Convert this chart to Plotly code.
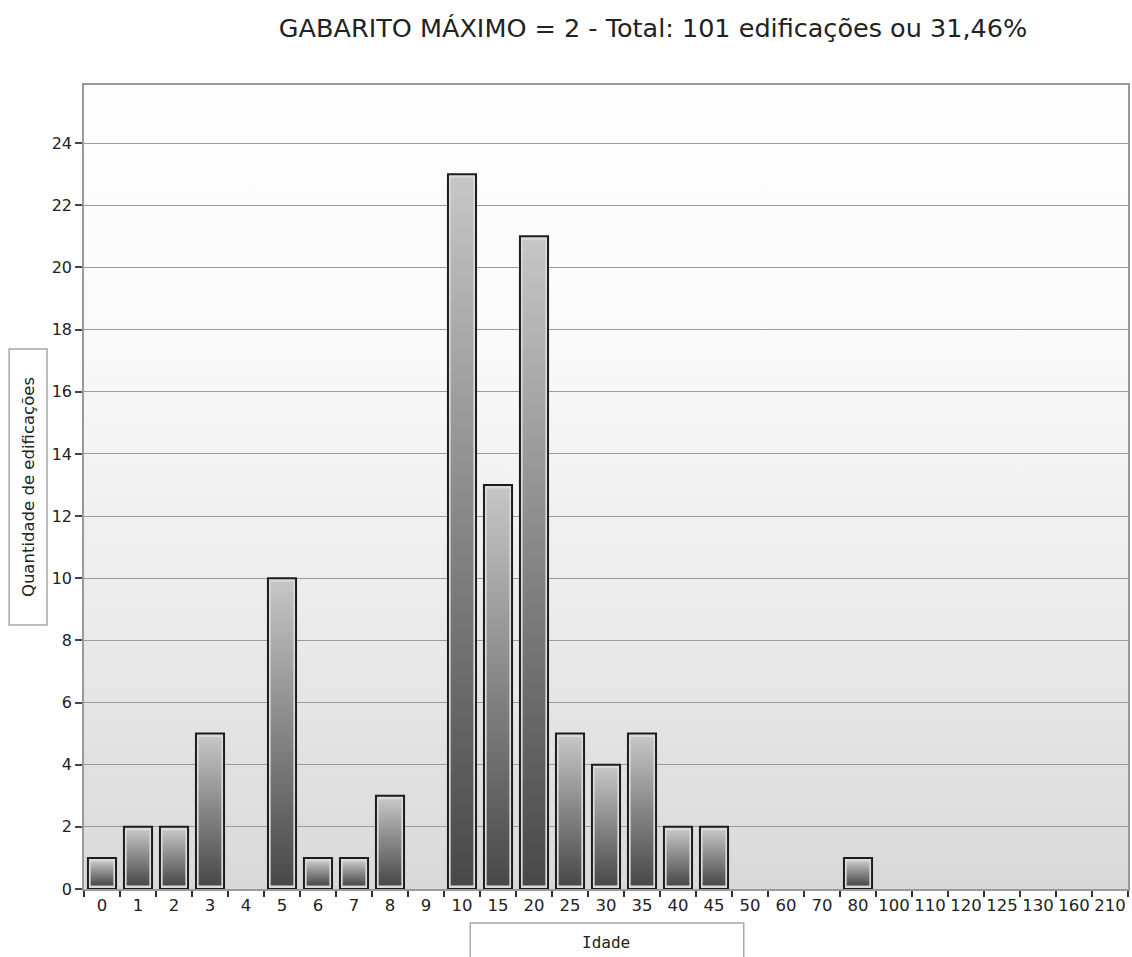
import base64
import plotly.graph_objects as go

# Age classes (x axis) and number of buildings in each class
idades = ["0", "1", "2", "3", "4", "5", "6", "7", "8", "9", "10", "15", "20", "25",
          "30", "35", "40", "45", "50", "60", "70", "80", "100", "110", "120", "125",
          "130", "160", "210"]
quantidades = [1, 2, 2, 5, 0, 10, 1, 1, 3, 0, 23, 13, 21, 5,
               4, 5, 2, 2, 0, 0, 0, 1, 0, 0, 0, 0,
               0, 0, 0]
y_ticks = list(range(0, 25, 2))

titulo = "GABARITO MÁXIMO = 2 - Total: 101 edificações ou 31,46%"
titulo_y = "Quantidade de edificações"
titulo_x = "Idade"

W, H = 1132, 957
ML, MR, MT, MB = 84, 2, 85, 68
PW, PH = W - ML - MR, H - MT - MB
Y_MAX = 25.87
BAR_W = 0.78

FONT = "DejaVu Sans"

def px_x(p):
    return (p - ML) / PW

def px_y(p):
    return (H - MB - p) / PH

idx = list(range(len(idades)))

fig = go.Figure()

# outer bar (light rim + dark outline); empty classes get no outline
fig.add_trace(go.Bar(
    x=idx, y=quantidades, width=BAR_W,
    marker=dict(color="#dadada",
                line=dict(color="#1c1c1c", width=[2 if v > 0 else 0 for v in quantidades])),
    hoverinfo="skip", showlegend=False,
))

# gradient body inside each bar
ix, iy = 0.075, 0.11
for i, v in zip(idx, quantidades):
    if v <= 0:
        continue
    x0, x1 = i - BAR_W / 2 + ix, i + BAR_W / 2 - ix
    y0, y1 = iy, v - iy
    fig.add_trace(go.Scatter(
        x=[x0, x1, x1, x0, x0], y=[y0, y0, y1, y1, y0],
        mode="lines", fill="toself", line=dict(width=0),
        fillgradient=dict(type="vertical",
                          colorscale=[[0, "#484848"], [0.5, "#858585"], [1, "#c6c6c6"]]),
        hoverinfo="skip", showlegend=False,
    ))

# plot background: soft vertical gradient
svg = (
    '<svg xmlns="http://www.w3.org/2000/svg" width="100" height="100" preserveAspectRatio="none">'
    '<defs><linearGradient id="g" x1="0" y1="0" x2="0" y2="1">'
    '<stop offset="0" stop-color="#fdfdfd"/>'
    '<stop offset="0.28" stop-color="#fbfbfb"/>'
    '<stop offset="0.6" stop-color="#eeeeee"/>'
    '<stop offset="1" stop-color="#d9d9d9"/>'
    '</linearGradient></defs>'
    '<rect width="100" height="100" fill="url(#g)"/></svg>'
)
bg_src = "data:image/svg+xml;base64," + base64.b64encode(svg.encode()).decode()

fig.update_layout(
    width=W, height=H,
    margin=dict(l=ML, r=MR, t=MT, b=MB),
    paper_bgcolor="white",
    plot_bgcolor="rgba(0,0,0,0)",
    font=dict(family=FONT, color="#222222"),
    title=dict(text=titulo, x=653 / W, y=1 - 28 / H, xanchor="center", yanchor="middle",
               font=dict(family=FONT, size=25.5, color="#222222")),
    bargap=0.22,
    images=[dict(source=bg_src, xref="paper", yref="paper", x=0, y=1, sizex=1, sizey=1,
                 sizing="stretch", layer="below", xanchor="left", yanchor="top")],
    xaxis=dict(
        range=[-0.5, len(idades) - 0.5],
        tickmode="array", tickvals=idx, ticktext=idades,
        ticks="", showgrid=False, zeroline=False,
        tickfont=dict(family=FONT, size=16.5, color="#222222"),
        showline=True, linecolor="#9a9a9a", linewidth=1.5, mirror=True,
        minor=dict(tickmode="linear", tick0=-0.5, dtick=1, ticks="outside",
                   ticklen=6, tickwidth=2, tickcolor="#333333", showgrid=False),
        fixedrange=True,
    ),
    yaxis=dict(
        range=[0, Y_MAX],
        tickmode="array", tickvals=y_ticks,
        ticks="outside", ticklen=7, tickwidth=1.5, tickcolor="#444444",
        showgrid=True, gridcolor="#9c9c9c", gridwidth=1,
        zeroline=False,
        tickfont=dict(family=FONT, size=16, color="#222222"),
        showline=True, linecolor="#9a9a9a", linewidth=1.5, mirror=True,
        fixedrange=True,
    ),
    shapes=[
        dict(type="rect", xref="paper", yref="paper",
             x0=px_x(9), x1=px_x(47), y0=px_y(625), y1=px_y(349),
             line=dict(color="#a8a8a8", width=1.5), fillcolor="white", layer="above"),
        dict(type="rect", xref="paper", yref="paper",
             x0=px_x(471), x1=px_x(745), y0=px_y(965), y1=px_y(923),
             line=dict(color="#a8a8a8", width=1.5), fillcolor="white", layer="above"),
    ],
    annotations=[
        dict(text=titulo_y, xref="paper", yref="paper", x=px_x(28), y=px_y(487),
             textangle=-90, showarrow=False, xanchor="center", yanchor="middle",
             font=dict(family=FONT, size=16.5, color="#222222")),
        dict(text=titulo_x, xref="paper", yref="paper", x=px_x(607), y=px_y(942),
             showarrow=False, xanchor="center", yanchor="middle",
             font=dict(family="DejaVu Sans Mono", size=16, color="#222222")),
    ],
)

fig.write_html("out.html")
